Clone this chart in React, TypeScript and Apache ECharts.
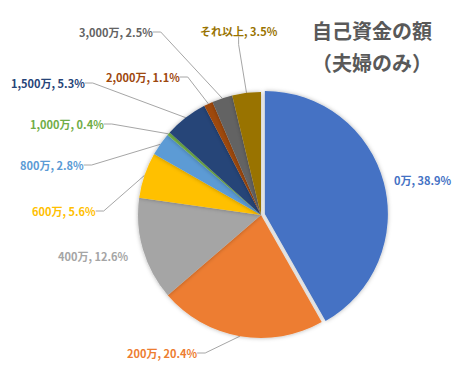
import React, { useEffect, useRef } from "react";
import * as echarts from "echarts";

const categories = ["0万", "200万", "400万", "600万", "800万", "1,000万", "1,500万", "2,000万", "3,000万", "それ以上"];
const shares = [38.9, 20.4, 12.6, 5.6, 2.8, 0.4, 5.3, 1.1, 2.5, 3.5];
const colors = ["#4472C4", "#ED7D31", "#A5A5A5", "#FFC000", "#5B9BD5", "#70AD47", "#264478", "#9E480E", "#636363", "#997300"];
const titleLines = ["自己資金の額", "（夫婦のみ）"];
// label anchor positions (annotation layout, px): left edge, vertical middle
const labelSpots: [number, number][] = [
  [394, 180], [127, 353], [58, 256], [32, 211], [20, 165],
  [30, 124], [11, 83], [106, 77], [79, 32], [200, 31],
];
const hideLine = [true, false, true, false, false, false, false, false, false, false];
const explodedIndex = 0;

export default function App() {
  const ref = useRef<HTMLDivElement>(null);
  useEffect(() => {
    if (!ref.current) return;
    const chart = echarts.init(ref.current, undefined, { renderer: "svg" });
    const font = "'Noto Sans CJK JP', 'Noto Sans', sans-serif";
    const labelBase = {
      position: "outside",
      fontFamily: font,
      fontSize: 11,
      fontWeight: "bold",
      overflow: "none",
      formatter: (p: any) => `${p.name}, ${Number(p.value).toFixed(1)}%`,
    };
    const layout = (p: any) => {
      const s = labelSpots[p.dataIndex];
      return { x: s[0], y: s[1], align: "left", verticalAlign: "middle" };
    };
    const common = {
      type: "pie",
      center: [261, 215],
      radius: [0, 123],
      startAngle: 90,
      clockwise: true,
      avoidLabelOverlap: false,
      emphasis: { disabled: true },
    };
    chart.setOption({
      animation: false,
      backgroundColor: "#ffffff",
      title: {
        text: titleLines.join("\n"),
        left: 367,
        top: 9,
        textAlign: "center",
        textStyle: { fontFamily: font, fontSize: 20, fontWeight: "bold", color: "#595959", lineHeight: 32 },
      },
      series: [
        {
          ...common,
          selectedMode: "single",
          selectedOffset: 4,
          itemStyle: { shadowBlur: 4, shadowColor: "rgba(0,0,0,0.3)" },
          labelLine: { show: true, length: 10, length2: 8, lineStyle: { color: "#A6A6A6", width: 1 } },
          label: labelBase,
          labelLayout: layout,
          data: categories.map((c, i) => ({
            name: c,
            value: shares[i],
            selected: i === explodedIndex,
            itemStyle: { color: colors[i] },
            label: { color: colors[i], show: i !== explodedIndex },
            labelLine: { show: !hideLine[i] && i !== explodedIndex },
          })),
        },
        {
          ...common,
          silent: true,
          itemStyle: { color: "rgba(0,0,0,0)" },
          labelLine: { show: false },
          label: labelBase,
          labelLayout: layout,
          data: categories.map((c, i) => ({
            name: c,
            value: shares[i],
            label: { color: colors[i], show: i === explodedIndex },
          })),
        },
      ],
    });
    return () => chart.dispose();
  }, []);
  return <div ref={ref} style={{ position: "fixed", left: 0, top: 0, width: 472, height: 368 }} />;
}
